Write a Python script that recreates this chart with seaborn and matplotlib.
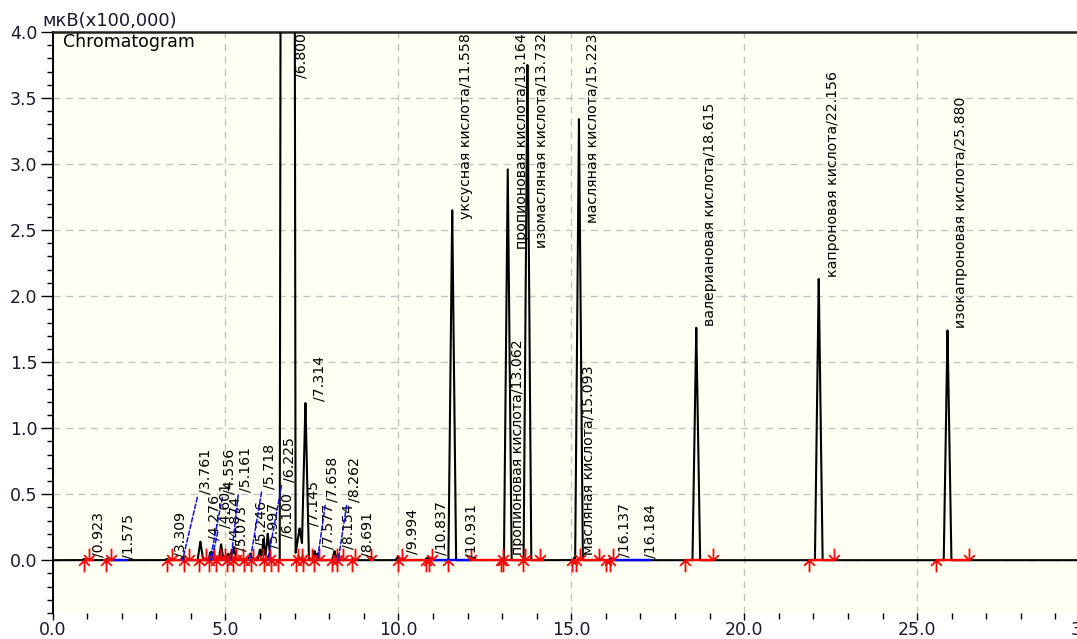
import numpy as np
import pandas as pd
import matplotlib
matplotlib.use("Agg")
import matplotlib.pyplot as plt
from matplotlib.path import Path
from matplotlib.ticker import MultipleLocator, FormatStrFormatter
import seaborn as sns

# ---- peak table: retention time (min), height (x100,000 uV), compound name ----
peak_rt = [0.923, 1.575, 3.309, 3.761, 4.276, 4.556, 4.601, 4.874, 5.073, 5.161,
           5.246, 5.718, 5.997, 6.100, 6.225, 6.800, 7.145, 7.314, 7.577, 7.658,
           8.154, 8.262, 8.691, 9.994, 10.837, 10.931, 11.558, 13.062, 13.164,
           13.732, 15.093, 15.223, 16.137, 16.184, 18.615, 22.156, 25.880]
peak_height = [0.01, 0.01, 0.01, 0.02, 0.14, 0.05, 0.06, 0.12, 0.05, 0.06,
               0.10, 0.05, 0.08, 0.16, 0.20, 40.0, 0.24, 1.19, 0.07, 0.05,
               0.07, 0.04, 0.01, 0.03, 0.02, 0.02, 2.65, 0.02, 2.96,
               3.75, 0.02, 3.34, 0.01, 0.01, 1.76, 2.13, 1.74]
peak_halfwidth = [0.07, 0.07, 0.07, 0.07, 0.08, 0.05, 0.05, 0.07, 0.05, 0.05,
                  0.07, 0.07, 0.07, 0.06, 0.08, 0.23, 0.15, 0.10, 0.06, 0.06,
                  0.07, 0.07, 0.07, 0.07, 0.07, 0.07, 0.11, 0.05, 0.11,
                  0.11, 0.05, 0.11, 0.07, 0.07, 0.11, 0.11, 0.11]
peak_name = ["", "", "", "", "", "", "", "", "", "",
             "", "", "", "", "", "", "", "", "", "",
             "", "", "", "", "", "", "уксусная кислота", "пропионовая кислота",
             "пропионовая кислота", "изомасляная кислота", "масляная кислота",
             "масляная кислота", "", "", "валериановая кислота",
             "капроновая кислота", "изокапроновая кислота"]

# ---- integration events ----
start_marks = [0.91, 1.55, 3.31, 3.80, 4.24, 4.53, 4.73, 5.05, 5.22, 5.54, 5.74,
               6.12, 6.32, 6.52, 7.05, 7.25, 7.56, 8.08, 8.23, 8.66, 9.99, 10.80,
               10.89, 11.44, 12.97, 13.03, 13.61, 15.02, 15.14, 16.01, 16.12,
               18.29, 21.88, 25.55]
end_marks = [1.05, 1.70, 3.45, 3.95, 4.45, 4.66, 4.85, 5.00, 5.15, 5.30, 5.50,
             5.80, 6.10, 6.30, 7.10, 7.20, 7.50, 7.70, 8.23, 8.40, 8.76, 9.20,
             10.10, 10.97, 12.10, 13.03, 13.65, 14.10, 15.25, 15.80, 16.20,
             19.10, 22.60, 26.50]
red_base_start = [0.91, 1.46, 3.31, 9.95, 12.07, 15.00, 18.29, 21.88, 25.55]
red_base_end = [1.17, 1.66, 8.80, 10.92, 14.20, 16.10, 19.10, 22.60, 26.50]
blue_base_start = [1.66, 10.92, 16.10]
blue_base_end = [2.15, 12.07, 17.30]

x_ticks = [0, 5, 10, 15, 20, 25, 30]
y_ticks = [0.0, 0.5, 1.0, 1.5, 2.0, 2.5, 3.0, 3.5, 4.0]

# labels moved off their apex (anchor time, anchor level, leader line)
label_anchor = {
    1.575: (2.00, 0.01, False),
    3.761: (4.21, 0.50, True),
    4.556: (4.93, 0.50, True),
    4.601: (4.80, 0.24, True),
    5.161: (5.38, 0.52, True),
    5.246: (5.85, 0.11, False),
    5.718: (6.06, 0.54, True),
    6.100: (6.58, 0.17, False),
    6.225: (6.64, 0.59, True),
    7.658: (7.90, 0.44, True),
    8.262: (8.52, 0.44, True),
    10.931: (11.90, 0.02, False),
    16.184: (17.08, 0.02, False),
}

sns.set_theme(style="white")
plt.rcParams["font.family"] = ["DejaVu Sans"]

DPI = 100
W, H = 1077, 639
fig = plt.figure(figsize=(W / DPI, H / DPI), dpi=DPI)
fig.patch.set_facecolor("white")
ax = fig.add_axes([52.5 / W, 26 / H, 1037.5 / W, 581 / H])
ax.set_facecolor("#fffff3")

# chromatogram trace built from the peak table
t = np.round(np.arange(0, 30.0005, 0.001), 3)
signal = np.zeros_like(t)
for rt, h, w in zip(peak_rt, peak_height, peak_halfwidth):
    signal += h * np.clip(1 - np.abs(t - rt) / w, 0, None)
trace = pd.DataFrame({"time": t, "signal": signal})
sns.lineplot(data=trace, x="time", y="signal", ax=ax, color="black",
             lw=1.5, estimator=None, sort=False, zorder=3)

# integration baselines
ax.hlines(np.zeros(len(red_base_start)), red_base_start, red_base_end,
          colors="#ff0000", lw=1.7, zorder=4)
ax.hlines(np.zeros(len(blue_base_start)), blue_base_start, blue_base_end,
          colors="#0000ff", lw=1.7, zorder=4)

# start / end arrows
up_arrow = Path([(0, 0), (0, -1), (-0.45, -0.45), (0, 0), (0.45, -0.45)],
                [Path.MOVETO, Path.LINETO, Path.MOVETO, Path.LINETO, Path.LINETO])
down_arrow = Path([(0, 0), (0, 1), (-0.45, 0.45), (0, 0), (0.45, 0.45)],
                  [Path.MOVETO, Path.LINETO, Path.MOVETO, Path.LINETO, Path.LINETO])
ax.plot(start_marks, np.zeros(len(start_marks)), ls="none", marker=up_arrow,
        ms=17, mec="#ff0000", mfc="none", mew=1.3, zorder=5, clip_on=False)
ax.plot(end_marks, np.zeros(len(end_marks)), ls="none", marker=down_arrow,
        ms=17, mec="#ff0000", mfc="none", mew=1.3, zorder=5, clip_on=False)

ax.set_xlim(0, 30)
ax.set_ylim(-0.4, 4.0)

# peak labels
auto_labels = []
for rt, h, name in zip(peak_rt, peak_height, peak_name):
    text = f"{name}/{rt:.3f}"
    if rt in label_anchor:
        lx, ly, leader = label_anchor[rt]
        props = dict(arrowstyle="-", color="#1010e0", lw=1.1, ls=(0, (3, 1.5)),
                     shrinkA=0, shrinkB=0, relpos=(0, 0)) if leader else None
        ax.annotate(text, xy=(rt, 0), xytext=(lx, ly), textcoords="data",
                    rotation=90, ha="left", va="bottom", fontsize=10.2,
                    color="black", arrowprops=props, zorder=6,
                    annotation_clip=False)
    else:
        ann = ax.annotate(text, xy=(rt, h), xytext=(5, 1.5),
                          textcoords="offset points", rotation=90,
                          ha="left", va="bottom", fontsize=10.2, color="black",
                          zorder=6, annotation_clip=False)
        auto_labels.append(ann)

# axes styling
ax.xaxis.set_major_locator(MultipleLocator(5))
ax.xaxis.set_minor_locator(MultipleLocator(1))
ax.yaxis.set_major_locator(MultipleLocator(0.5))
ax.yaxis.set_minor_locator(MultipleLocator(0.1))
ax.xaxis.set_major_formatter(FormatStrFormatter("%.1f"))
ax.yaxis.set_major_formatter(FormatStrFormatter("%.1f"))
ax.set_xticks(x_ticks)
ax.set_yticks(y_ticks)
ax.set_xlim(0, 30)
ax.set_ylim(-0.4, 4.0)
ax.set_xlabel("")
ax.set_ylabel("")
ax.grid(True, which="major", color="#c4c4c4", ls=(0, (5, 4)), lw=1.0)
ax.set_axisbelow(True)
ax.tick_params(axis="both", which="major", direction="out", width=1,
               color="black", labelsize=12.5, labelcolor="#1a1a2e",
               left=True, bottom=True)
ax.tick_params(axis="both", which="minor", direction="out", length=4, width=1,
               color="black", left=True, bottom=True)
ax.tick_params(axis="y", which="major", length=9, pad=2)
ax.tick_params(axis="x", which="major", length=5, pad=0.5)
for side in ("right", "bottom"):
    ax.spines[side].set_visible(False)
ax.spines["left"].set_color("black")
ax.spines["left"].set_linewidth(1.4)
ax.spines["top"].set_color("#222222")
ax.spines["top"].set_linewidth(1.8)

ax.text(0.010, 0.998, "Chromatogram", transform=ax.transAxes, ha="left",
        va="top", fontsize=12.5, color="black", zorder=7)
fig.text(42 / W, 1 - 21 / H, "мкВ(x100,000)", ha="left", va="center",
         fontsize=13, color="#1a1a2e")

# keep long labels inside the plotting area
fig.canvas.draw()
renderer = fig.canvas.get_renderer()
ax_top = ax.get_window_extent(renderer).y1
for ann in auto_labels:
    ext = ann.get_window_extent(renderer)
    if ext.y1 > ax_top - 1:
        shift_pt = (ext.y1 - ax_top + 1) * 72 / DPI
        dx, dy = ann.xyann
        ann.xyann = (dx, dy - shift_pt)

fig.savefig("out.png", dpi=DPI)
